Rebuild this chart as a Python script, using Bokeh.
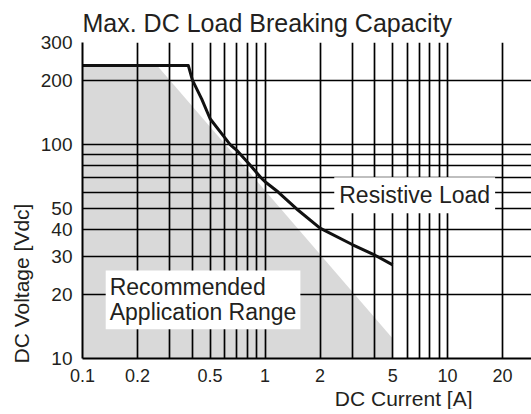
from bokeh.plotting import figure
from bokeh.models import FixedTicker, Label, Range1d, Title
from bokeh.embed import file_html
from bokeh.resources import INLINE

# ---- data ----
resistive_current = [0.1, 0.38, 0.40, 0.45, 0.50, 0.60, 0.644, 0.70, 0.83, 0.95, 1.0,
                     1.18, 1.49, 2.0, 3.0, 4.0, 5.0]
resistive_voltage = [234, 234, 200, 163, 132, 108, 100, 94, 80, 70, 67,
                     60, 50, 40.7, 34.1, 30.4, 27.4]

range_current = [0.1, 0.1, 0.259, 5.0, 5.0]
range_voltage = [10, 232, 232, 12.4, 10]

x_ticks = [0.1, 0.2, 0.5, 1, 2, 5, 10, 20]
x_tick_labels = ["0.1", "0.2", "0.5", "1", "2", "5", "10", "20"]
y_ticks = [10, 20, 30, 40, 50, 100, 200, 300]
y_tick_labels = ["10", "20", "30", "40", "50", "100", "200", "300"]

x_grid_values = [0.2, 0.3, 0.4, 0.5, 0.6, 0.7, 0.8, 0.9,
                 1, 2, 3, 4, 5, 6, 7, 8, 9, 10, 20, 30]
y_grid_values = [20, 30, 40, 50, 60, 70, 80, 90, 100, 200, 300]

FONT = "Liberation Sans"
TXT = "#231f20"

p = figure(frame_width=449, frame_height=316,
           x_axis_type="log", y_axis_type="log",
           x_range=Range1d(0.1, 28.8), y_range=Range1d(10, 300),
           output_backend="svg", toolbar_location=None,
           min_border_left=82, min_border_right=0,
           min_border_top=42, min_border_bottom=48)
p.outline_line_color = None
p.background_fill_color = "white"
p.border_fill_color = "white"

# title
p.title.text = "Max. DC Load Breaking Capacity"
p.title.text_font = FONT
p.title.text_font_size = "25px"
p.title.text_font_style = "normal"
p.title.text_color = TXT
p.title.align = "left"
p.title.standoff = 12

# recommended range (gray area)
p.patch(range_current, range_voltage, fill_color="#d9d9d9", line_color=None, level="image")

# grid
p.xgrid.ticker = FixedTicker(ticks=x_grid_values)
p.ygrid.ticker = FixedTicker(ticks=y_grid_values)
for g in (p.xgrid, p.ygrid):
    g.grid_line_color = "black"
    g.grid_line_width = 1.7
    g.grid_line_alpha = 1.0

# resistive load curve
p.line(resistive_current, resistive_voltage, line_color="#111111", line_width=3,
       line_join="round")

# axes
p.xaxis.ticker = FixedTicker(ticks=x_ticks)
p.yaxis.ticker = FixedTicker(ticks=y_ticks)
p.xaxis.major_label_overrides = {float(t): s for t, s in zip(x_ticks, x_tick_labels)}
p.yaxis.major_label_overrides = {float(t): s for t, s in zip(y_ticks, y_tick_labels)}
for ax in (p.xaxis, p.yaxis):
    ax.axis_line_color = "black"
    ax.axis_line_width = 2
    ax.major_tick_in = 0
    ax.major_tick_out = 0
    ax.minor_tick_in = 0
    ax.minor_tick_out = 0
    ax.major_label_text_font = FONT
    ax.major_label_text_color = TXT
    ax.major_label_standoff = 10
p.xaxis.major_label_text_font_size = "18px"
p.yaxis.major_label_text_font_size = "19px"

# axis titles
p.add_layout(Title(text="DC Current [A]", align="right", offset=59, standoff=0,
                   text_font=FONT, text_font_size="21px", text_font_style="normal",
                   text_color=TXT), "below")
p.add_layout(Title(text="DC Voltage [Vdc]", align="left", offset=-5,
                   text_font=FONT, text_font_size="21px", text_font_style="normal",
                   text_color=TXT), "left")

# annotations
p.add_layout(Label(x=6.6, y=58, text="Resistive Load",
                   text_align="center", text_baseline="alphabetic",
                   text_font=FONT, text_font_size="23px", text_color=TXT,
                   background_fill_color="white", background_fill_alpha=1.0,
                   padding=5))
p.add_layout(Label(x=0.134, y=25.8, text="Recommended\nApplication Range",
                   text_align="left", text_baseline="top",
                   text_font=FONT, text_font_size="23px", text_color=TXT,
                   text_line_height=0.95,
                   background_fill_color="white", background_fill_alpha=1.0,
                   padding=4))

open("out.html", "w").write(file_html(p, INLINE))
